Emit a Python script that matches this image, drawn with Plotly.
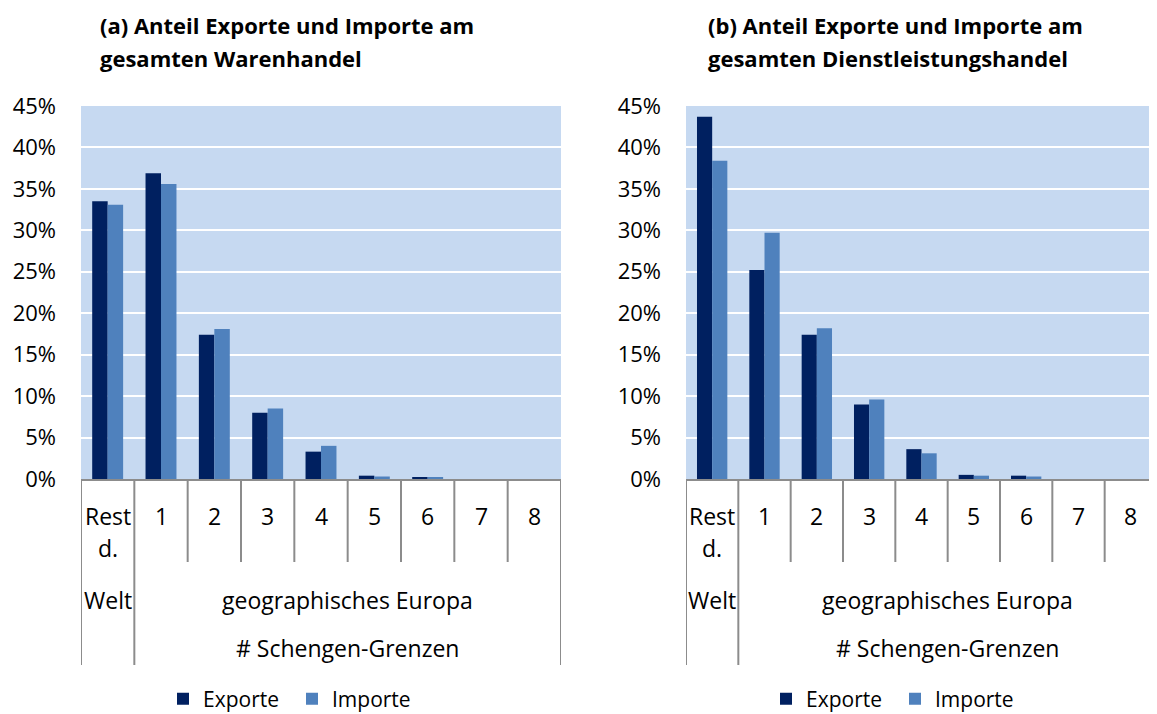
import plotly.graph_objects as go

# ---- data ----
categories = ["Rest d.", "1", "2", "3", "4", "5", "6", "7", "8"]
group_labels = ["Welt", "geographisches Europa"]
group2_label = "# Schengen-Grenzen"

waren_export = [0.335, 0.369, 0.174, 0.080, 0.033, 0.004, 0.002, 0.0, 0.0]
waren_import = [0.331, 0.356, 0.181, 0.085, 0.040, 0.003, 0.0015, 0.0, 0.0]

dienst_export = [0.437, 0.252, 0.174, 0.090, 0.036, 0.005, 0.004, 0.0, 0.0]
dienst_import = [0.384, 0.297, 0.182, 0.096, 0.031, 0.004, 0.003, 0.0, 0.0]

title_a = ["(a) Anteil Exporte und Importe am", "gesamten Warenhandel"]
title_b = ["(b) Anteil Exporte und Importe am", "gesamten Dienstleistungshandel"]

series_names = ["Exporte", "Importe"]
colors = ["#002060", "#4F81BD"]

OFF = 8  # page body margin
W, H = 1157 - OFF, 714 - OFF
FONT = "Open Sans"
TXT = 23
TICK = 22


def px_x(p):
    return (p - OFF) / W


def px_y(p):
    return 1 - (p - OFF) / H


fig = go.Figure()

panels = [
    dict(exp=waren_export, imp=waren_import, title=title_a, xa="x", ya="y",
         dom=[px_x(81), px_x(561)], tx=98, legend="legend", lx=163),
    dict(exp=dienst_export, imp=dienst_import, title=title_b, xa="x2", ya="y2",
         dom=[px_x(686), px_x(1157)], tx=706, legend="legend2", lx=766),
]

annotations = []
shapes = []
for i, p in enumerate(panels):
    for name, vals, col in zip(series_names, [p["exp"], p["imp"]], colors):
        fig.add_trace(go.Bar(
            x=categories, y=vals, name=name, marker_color=col,
            marker_line_width=0, xaxis=p["xa"], yaxis=p["ya"],
            legend=p["legend"],
        ))
    # titles
    for k, line in enumerate(p["title"]):
        annotations.append(dict(
            xref="paper", yref="paper", x=px_x(p["tx"]), y=px_y(25 + 33 * k),
            xanchor="left", yanchor="middle", showarrow=False,
            text="<b>" + line + "</b>", font=dict(size=22, family=FONT, color="black")))
    # category labels (wrapped word by word like the original)
    for j, c in enumerate(categories):
        for k, word in enumerate(c.split(" ")):
            annotations.append(dict(
                xref=p["xa"], yref="paper", x=j, y=px_y(516 + 32 * k),
                yanchor="middle", showarrow=False, text=word,
                font=dict(size=TXT, family=FONT, color="black")))
    # group labels
    annotations.append(dict(xref=p["xa"], yref="paper", x=0, y=px_y(600), showarrow=False,
                            yanchor="middle", text=group_labels[0],
                            font=dict(size=TXT, family=FONT, color="black")))
    annotations.append(dict(xref=p["xa"], yref="paper", x=4.5, y=px_y(600), showarrow=False,
                            yanchor="middle", text=group_labels[1],
                            font=dict(size=TXT, family=FONT, color="black")))
    annotations.append(dict(xref=p["xa"], yref="paper", x=4.5, y=px_y(648), showarrow=False,
                            yanchor="middle", text=group2_label,
                            font=dict(size=TXT, family=FONT, color="black")))
    # table lines
    n = len(categories)
    for b in [k + 0.5 for k in range(-1, n)]:
        full = b in (-0.5, 0.5, n - 0.5)
        shapes.append(dict(type="line", xref=p["xa"], yref="paper", x0=b, x1=b,
                           y0=px_y(479), y1=px_y(665 if full else 562),
                           line=dict(color="#8c8c8c", width=2)))

fig.update_layout(
    width=W, height=H,
    margin=dict(l=0, r=0, t=0, b=0, autoexpand=False),
    paper_bgcolor="white",
    plot_bgcolor="#C6D9F1",
    barmode="group", bargap=0.42, bargroupgap=0,
    font=dict(family=FONT, size=TXT, color="black"),
    annotations=annotations, shapes=shapes,
    legend=dict(orientation="h", x=px_x(panels[0]["lx"]), y=px_y(699), xanchor="left",
                yanchor="middle", font=dict(size=21, family=FONT), entrywidth=84,
                bgcolor="rgba(0,0,0,0)"),
    legend2=dict(orientation="h", x=px_x(panels[1]["lx"]), y=px_y(699), xanchor="left",
                 yanchor="middle", font=dict(size=21, family=FONT), entrywidth=84,
                 bgcolor="rgba(0,0,0,0)"),
)

for p in panels:
    xa = "xaxis" if p["xa"] == "x" else "xaxis2"
    ya = "yaxis" if p["ya"] == "y" else "yaxis2"
    fig.update_layout(**{
        xa: dict(domain=p["dom"], anchor=p["ya"], type="category", range=[-0.5, 8.5],
                 showticklabels=False, ticks="", showgrid=False, showline=True,
                 linecolor="#8c8c8c", linewidth=2, zeroline=False, fixedrange=True),
        ya: dict(domain=[px_y(479), px_y(106)], anchor=p["xa"], range=[0, 0.45], dtick=0.05,
                 tickformat=".0%", showgrid=True, gridcolor="white", gridwidth=2,
                 zeroline=False, showline=False, ticks="", ticklabelstandoff=24,
                 tickfont=dict(size=TICK, family=FONT, color="black"), automargin=False),
    })

fig.write_html("out.html")
